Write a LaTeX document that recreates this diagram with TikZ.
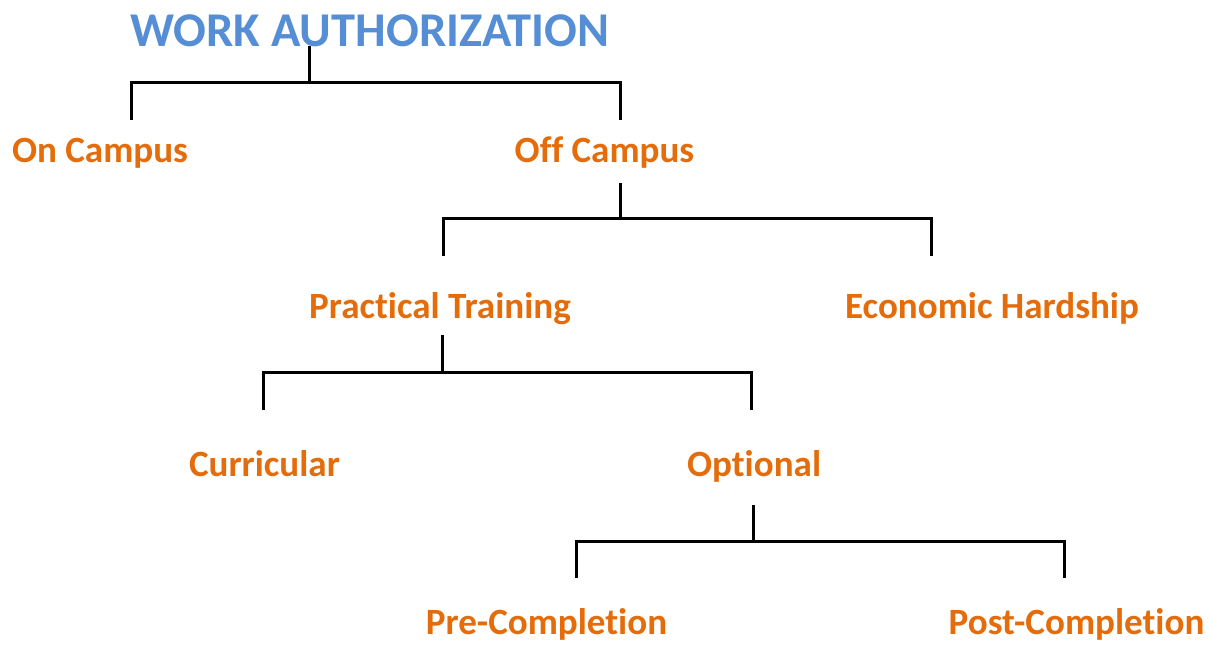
\documentclass[tikz,border=0pt]{standalone}
\usepackage{fontspec}
\setmainfont[Ligatures=NoCommon]{Carlito}
\definecolor{titleblue}{RGB}{85,142,213}
\definecolor{labelorange}{RGB}{228,108,10}
\begin{document}
\begin{tikzpicture}[x=0.75pt,y=-0.75pt,
  lbl/.style={anchor=base,inner sep=0pt,text=labelorange,font=\fontsize{27.8}{30}\selectfont\bfseries},
  ttl/.style={anchor=base,inner sep=0pt,text=titleblue,font=\fontsize{36.4}{40}\selectfont\bfseries},
  conn/.style={draw=black,line width=2.25pt}]
\useasboundingbox (0,0) rectangle (1212,644);
\node[ttl] (title) at (370,46) {WORK AUTHORIZATION};
\node[lbl] (on) at (100,162) {On Campus};
\node[lbl] (off) at (604.5,162) {Off Campus};
\node[lbl] (pt) at (440,318) {Practical Training};
\node[lbl] (eh) at (992,318) {Economic Hardship};
\node[lbl] (cur) at (264.5,476) {Curricular};
\node[lbl] (opt) at (754,476) {Optional};
\node[lbl] (pre) at (546.5,634) {Pre-Completion};
\node[lbl] (post) at (1076.5,634) {Post-Completion};
% level 1
\coordinate (a0) at (309,46); \coordinate (a1) at (309,82);
\coordinate (aL) at (131,82); \coordinate (aR) at (620,82);
\coordinate (aLd) at (131,120); \coordinate (aRd) at (620,120);
\draw[conn] (a0) -- (a1);
\draw[conn] (aLd) -- (aL) -- (aR) -- (aRd);
% level 2
\coordinate (b0) at (620,183); \coordinate (b1) at (620,218);
\coordinate (bL) at (443,218); \coordinate (bR) at (931,218);
\coordinate (bLd) at (443,256); \coordinate (bRd) at (931,256);
\draw[conn] (b0) -- (b1);
\draw[conn] (bLd) -- (bL) -- (bR) -- (bRd);
% level 3
\coordinate (c0) at (442,335); \coordinate (c1) at (442,372);
\coordinate (cL) at (263,372); \coordinate (cR) at (751,372);
\coordinate (cLd) at (263,410); \coordinate (cRd) at (751,410);
\draw[conn] (c0) -- (c1);
\draw[conn] (cLd) -- (cL) -- (cR) -- (cRd);
% level 4
\coordinate (d0) at (753,505); \coordinate (d1) at (753,541);
\coordinate (dL) at (576,541); \coordinate (dR) at (1064,541);
\coordinate (dLd) at (576,578); \coordinate (dRd) at (1064,578);
\draw[conn] (d0) -- (d1);
\draw[conn] (dLd) -- (dL) -- (dR) -- (dRd);
\end{tikzpicture}
\end{document}
